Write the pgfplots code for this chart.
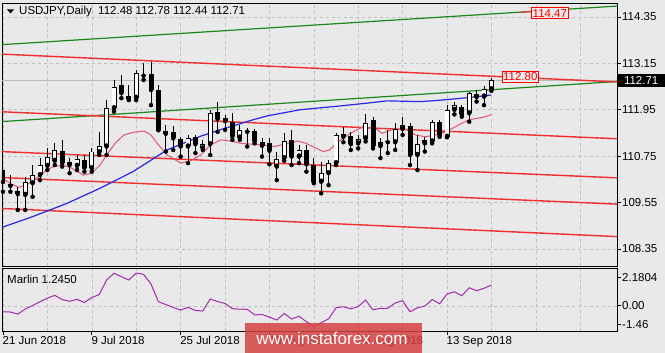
\documentclass[border=0pt]{standalone}
\usepackage{fontspec}
\setmainfont{Liberation Sans}
\usepackage{pgfplots}
\usepackage{pgfplotstable}
\pgfplotsset{compat=1.18}
\definecolor{bg}{RGB}{233,233,233}
\definecolor{gridc}{RGB}{190,190,190}
\definecolor{chred}{RGB}{242,45,45}
\definecolor{chgreen}{RGB}{25,135,25}
\definecolor{mablue}{RGB}{40,40,235}
\definecolor{pinkl}{RGB}{228,85,115}
\definecolor{marlin}{RGB}{165,40,175}
\definecolor{wm}{RGB}{215,65,65}

% i Open High Low Close (bullish days)
\pgfplotstableread{
i O H L C
3 109.75 110.22 109.36 110.09
4 110.05 110.52 109.70 110.26
5 110.26 110.70 110.13 110.52
6 110.50 110.95 110.39 110.74
7 110.63 111.08 110.52 110.91
10 110.50 110.78 110.39 110.67
12 110.44 110.95 110.35 110.87
13 110.85 111.38 110.78 111.02
14 111.00 112.20 110.78 112.00
15 111.99 112.72 111.90 112.55
17 112.22 112.59 112.20 112.31
18 112.26 112.98 112.20 112.89
25 111.00 111.30 110.57 111.21
27 110.95 111.17 110.91 111.06
28 111.06 111.95 110.78 111.86
32 111.23 111.56 111.17 111.43
35 111.02 111.21 110.74 111.11
37 110.48 110.87 110.13 110.68
38 110.70 111.34 110.63 111.14
40 110.74 111.04 110.57 110.91
43 110.09 110.59 109.79 110.31
44 110.31 110.65 110.00 110.57
45 110.57 111.34 110.52 111.30
48 111.08 111.30 110.95 111.20
49 111.21 111.83 111.13 111.60
51 111.01 111.21 110.70 111.11
53 111.11 111.60 110.91 111.45
54 111.45 111.77 111.30 111.56
56 110.78 111.30 110.39 111.06
57 111.08 111.25 110.87 111.17
58 111.13 111.69 111.08 111.63
60 111.25 112.07 111.24 111.95
61 111.95 112.16 111.83 112.07
63 111.86 112.40 111.64 112.38
65 112.29 112.57 112.07 112.48
66 112.48 112.78 112.44 112.71
}\bull

% i Open High Low Close (bearish days)
\pgfplotstableread{
i O H L C
0 110.39 110.78 109.83 110.08
1 110.03 110.26 109.83 109.98
2 109.86 109.95 109.36 109.77
8 110.88 111.17 110.48 110.57
9 110.59 110.70 110.31 110.52
11 110.65 110.78 110.35 110.45
16 112.59 112.85 112.25 112.38
19 112.86 113.15 112.72 112.83
20 112.87 113.19 112.07 112.46
21 112.46 112.59 111.42 111.43
22 111.40 111.56 110.87 111.33
23 111.37 111.54 110.91 111.21
24 111.20 111.25 110.74 111.00
26 111.25 111.30 110.83 111.06
29 111.88 112.16 111.38 111.71
30 111.73 111.82 111.43 111.66
31 111.64 111.86 111.17 111.26
33 111.41 111.47 111.00 111.38
34 111.40 111.45 111.08 111.14
36 111.08 111.21 110.54 110.89
39 111.17 111.43 110.52 110.74
41 110.91 111.04 110.35 110.54
42 110.52 110.70 110.05 110.08
46 111.32 111.51 111.11 111.25
47 111.27 111.37 110.91 111.06
50 111.69 111.77 110.95 111.00
52 111.14 111.43 110.83 111.11
55 111.54 111.60 110.52 110.78
59 111.64 111.69 111.25 111.30
62 112.03 112.07 111.77 111.83
64 112.35 112.46 112.16 112.28
}\bear

\tikzset{chartfont/.style={font=\fontsize{11.5}{13}\selectfont}}
\pgfplotsset{
  wick/.style={only marks, mark=none, forget plot,
    error bars/.cd, y dir=plus, y explicit, error mark=none,
    error bar style={draw=black, line width=1pt}},
  body/.style={only marks, mark=none, forget plot,
    error bars/.cd, y dir=plus, y explicit, error mark=none,
    error bar style={draw=#1, line width=5pt}},
  inner/.style={only marks, mark=none, forget plot,
    error bars/.cd, y dir=plus, y explicit, error mark=none,
    error bar style={draw=white, line width=3.2pt}},
}

\begin{document}
\begin{tikzpicture}
\path[use as bounding box, fill=bg] (0pt,0pt) rectangle (665pt,-353pt);

% ---------------- main price panel ----------------
\begin{axis}[
  at={(2pt,-3pt)}, anchor=north west,
  scale only axis, width=615pt, height=263pt,
  xmin=-0.135, xmax=82.97, ymin=107.91, ymax=114.71,
  axis background/.style={fill=bg},
  axis line style={black, line width=0.9pt},
  clip mode=individual,
  xtick={0,12,...,60}, xticklabels={},
  minor xtick={6,18,30,42,54,66,72,78},
  xmajorgrids, xminorgrids,
  xtick style={draw=none},
  ytick={108.35,109.55,110.75,111.95,113.15,114.35},
  yticklabels={108.35,109.55,110.75,111.95,113.15,114.35},
  ymajorgrids,
  major grid style={gridc, dashed, line width=0.6pt},
  minor grid style={gridc, dashed, line width=0.6pt},
  ytick pos=right, yticklabel pos=right,
  tick align=outside, major tick length=4pt, minor tick length=0pt,
  ytick style={black, line width=0.8pt},
  yticklabel style={chartfont, anchor=west, inner sep=0pt, xshift=1pt},
]
% current price line
\addplot[gray!55, line width=0.6pt, forget plot] coordinates {(-1,112.71) (84,112.71)};
% channel lines
\addplot[chgreen, line width=1.2pt] coordinates {(-0.41,113.63) (82.97,114.63)};
\addplot[chred, line width=1.2pt] coordinates {(69.9,114.47) (71.5,114.49)};
\addplot[chgreen, line width=1.2pt] coordinates {(-0.41,111.64) (82.97,112.68)};
\addplot[chred, line width=1.4pt] coordinates {(-0.41,113.39) (82.97,112.67)};
\addplot[chred, line width=1.4pt] coordinates {(-0.41,111.90) (82.97,111.20)};
\addplot[chred, line width=1.4pt] coordinates {(-0.41,110.87) (82.97,110.19)};
\addplot[chred, line width=1.4pt] coordinates {(-0.41,110.20) (82.97,109.51)};
\addplot[chred, line width=1.4pt] coordinates {(-0.41,109.40) (82.97,108.67)};
% moving average (blue)
\addplot[mablue, line width=1.2pt] coordinates {
(-0.41,108.89) (4.05,109.19) (8.65,109.53) (13.11,109.92) (17.57,110.35)
(22.16,110.91) (26.62,111.26) (29.32,111.43) (33.78,111.69) (35.68,111.79)
(40.14,111.95) (44.59,112.03) (49.19,112.12) (51.89,112.18) (56.35,112.16)
(58.65,112.19) (62.70,112.26) (65.95,112.33)};
% short moving average (pink)
\addplot[pinkl, line width=1pt] coordinates {
(-0.41,110.22) (0.95,110.05) (2.07,109.94) (3.20,110.01) (4.55,110.18)
(5.90,110.39) (6.80,110.48) (8.15,110.52) (9.28,110.44) (10.85,110.26)
(11.99,110.31) (13.11,110.52) (14.01,110.78) (15.14,111.08) (16.35,111.30)
(17.70,111.37) (19.05,111.40) (19.96,111.30) (20.85,111.08) (22.20,110.78)
(24.01,110.57) (25.36,110.63) (26.72,110.78) (28.07,111.04) (29.42,111.17)
(30.77,111.14) (32.12,111.08) (33.65,111.06) (34.91,111.04) (36.72,111.00)
(38.51,111.08) (39.86,111.14) (40.99,111.08) (42.12,110.97) (43.24,110.87)
(44.15,110.91) (45.04,111.08) (46.18,111.25) (47.53,111.40) (48.65,111.51)
(50.41,111.45) (51.22,111.34) (52.57,111.43) (54.36,111.45) (55.72,111.30)
(57.07,111.25) (58.42,111.30) (59.77,111.37) (61.12,111.51) (62.93,111.69)
(64.73,111.75) (65.99,111.82)};
% candles: wicks
\addplot[wick] table[x=i, y=L, y error plus expr=\thisrow{H}-\thisrow{L}] {\bull};
\addplot[wick] table[x=i, y=L, y error plus expr=\thisrow{H}-\thisrow{L}] {\bear};
% candles: bodies
\addplot[body=black] table[x=i, y=C, y error plus expr=\thisrow{O}-\thisrow{C}] {\bear};
\addplot[body=black] table[x=i, y=O, y error plus expr=\thisrow{C}-\thisrow{O}] {\bull};
\addplot[inner] table[x=i, y expr=\thisrow{O}+0.025, y error plus expr=\thisrow{C}-\thisrow{O}-0.05] {\bull};
% price labels
\node[chartfont, draw=red, fill=bg, text=red, inner sep=1.2pt, line width=0.8pt] at (axis cs:73.9,114.45) {114.47};
\node[chartfont, draw=red, fill=bg, text=red, inner sep=1.2pt, line width=0.8pt] at (axis cs:69.9,112.80) {112.80};
\node[chartfont, fill=black, text=white, anchor=west, minimum width=48pt, minimum height=13pt, inner sep=0pt] at (axis cs:82.97,112.70) {112.71};
\end{axis}

% ---------------- Marlin panel ----------------
\begin{axis}[
  at={(2pt,-268pt)}, anchor=north west,
  scale only axis, width=615pt, height=63pt,
  xmin=-0.135, xmax=82.97, ymin=-1.95, ymax=2.93,
  axis background/.style={fill=bg},
  axis line style={black, line width=0.9pt},
  xtick={0,12,...,60},
  xticklabels={21 Jun 2018,9 Jul 2018,25 Jul 2018,10 Aug 2018,28 Aug 2018,13 Sep 2018},
  minor xtick={6,18,30,42,54,66,72,78},
  xmajorgrids, xminorgrids,
  ytick={0}, yticklabels={0.00}, ymajorgrids,
  extra y ticks={-1.46,2.1804}, extra y tick labels={-1.46,2.1804},
  extra y tick style={grid=none},
  major grid style={gridc, dashed, line width=0.6pt},
  minor grid style={gridc, dashed, line width=0.6pt},
  xtick pos=bottom, ytick pos=right, yticklabel pos=right,
  tick align=outside, major tick length=4pt, minor tick length=0pt,
  tick style={black, line width=0.8pt},
  yticklabel style={chartfont, anchor=west, inner sep=0pt, xshift=1pt},
  xticklabel style={chartfont, anchor=north west, inner sep=0pt, xshift=-0.5pt, yshift=-1pt},
]
\addplot[marlin, line width=1pt] coordinates {
(0,-0.46) (1,-0.48) (2,-0.64) (3,-0.25) (4,0.03) (5,0.32) (6,0.60) (7,0.81)
(8,0.49) (9,0.35) (10,0.50) (11,0.26) (12,0.64) (13,0.87) (14,2.00) (15,2.52)
(16,2.26) (17,2.00) (18,2.54) (19,2.44) (20,1.69) (21,0.32) (22,0.10) (23,-0.12)
(24,-0.33) (25,-0.12) (26,-0.36) (27,-0.40) (28,0.53) (29,0.33) (30,0.19) (31,-0.22)
(32,-0.26) (33,-0.27) (34,-0.70) (35,-0.67) (36,-0.88) (37,-1.10) (38,-0.59) (39,-1.02)
(40,-0.81) (41,-1.23) (42,-1.59) (43,-1.30) (44,-1.01) (45,-0.15) (46,-0.07) (47,-0.23)
(48,-0.06) (49,0.45) (50,-0.31) (51,-0.19) (52,-0.19) (53,0.22) (54,0.40) (55,-0.46)
(56,-0.16) (57,-0.02) (58,0.49) (59,0.16) (60,0.91) (61,1.09) (62,0.78) (63,1.40)
(64,1.17) (65,1.36) (66,1.61)};
\end{axis}

% title and indicator name
\fill[black] (7pt,-9.5pt) -- (14pt,-9.5pt) -- (10.5pt,-13.5pt) -- cycle;
\node[chartfont, anchor=west, inner sep=0pt] at (19pt,-12pt) {USDJPY,Daily\ \ 112.48 112.78 112.44 112.71};
\node[chartfont, anchor=west, inner sep=0pt] at (7pt,-279pt) {Marlin 1.2450};

% watermark
\fill[wm, opacity=0.85] (245pt,-322.7pt) rectangle (422pt,-353pt);
\node[text=white, font=\fontsize{17}{19}\selectfont, inner sep=0pt] at (332pt,-338pt) {www.instaforex.com};
\end{tikzpicture}
\end{document}
